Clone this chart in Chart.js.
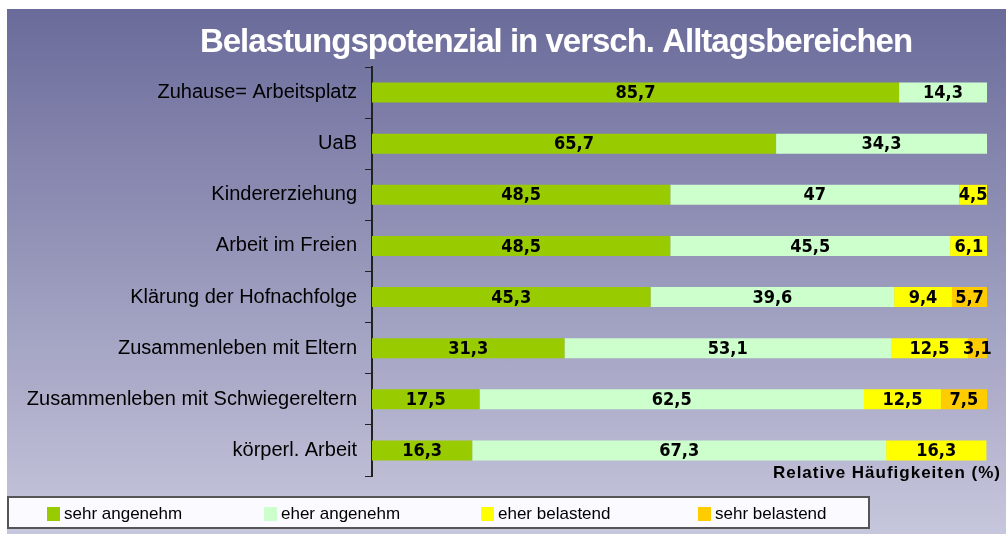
<!DOCTYPE html>
<html>
<head>
<meta charset="utf-8">
<script src="https://cdn.jsdelivr.net/npm/chart.js@4.4.0/dist/chart.umd.min.js"></script>
<style>
  html, body { margin: 0; padding: 0; background: #fff; }
  #wrap { position: relative; width: 1006px; height: 534px; overflow: hidden; }
  #bg { position: absolute; left: 7px; top: 9px; right: 0; bottom: 0;
        background: linear-gradient(to bottom, #6b6b9b 0%, #c6c6dc 100%); }
  canvas { position: absolute; left: 0; top: 0; }
</style>
</head>
<body>
<div id="wrap">
  <div id="bg"></div>
  <canvas id="barChart" width="1006" height="534"></canvas>
</div>
<script>
const categories = [
  "Zuhause= Arbeitsplatz",
  "UaB",
  "Kindererziehung",
  "Arbeit im Freien",
  "Klärung der Hofnachfolge",
  "Zusammenleben mit Eltern",
  "Zusammenleben mit Schwiegereltern",
  "körperl. Arbeit"
];
const sehrAngenehm = [85.7, 65.7, 48.5, 48.5, 45.3, 31.3, 17.5, 16.3];
const eherAngenehm = [14.3, 34.3, 47, 45.5, 39.6, 53.1, 62.5, 67.3];
const eherBelastend = [0, 0, 4.5, 6.1, 9.4, 12.5, 12.5, 16.3];
const sehrBelastend = [0, 0, 0, 0, 5.7, 3.1, 7.5, 0];
const seriesNames = ["sehr angenehm", "eher angenehm", "eher belastend", "sehr belastend"];
const seriesColors = ["#99cc00", "#ccffcc", "#ffff00", "#ffcc00"];
const chartTitle = "Belastungspotenzial in versch. Alltagsbereichen";
const axisTitle = "Relative Häufigkeiten (%)";

const seriesValues = [sehrAngenehm, eherAngenehm, eherBelastend, sehrBelastend];

// value labels centred in each segment, german decimal comma
const barLabels = {
  id: "barLabels",
  afterDatasetsDraw(chart) {
    const ctx = chart.ctx;
    ctx.save();
    ctx.font = "bold 18px 'DejaVu Sans Condensed', 'DejaVu Sans', sans-serif";
    ctx.fillStyle = "#000";
    ctx.textAlign = "center";
    ctx.textBaseline = "middle";
    chart.data.datasets.forEach((ds, i) => {
      chart.getDatasetMeta(i).data.forEach((bar, j) => {
        const v = ds.data[j];
        if (!v) return;
        ctx.fillText(String(v).replace(".", ","), (bar.x + bar.base) / 2, bar.y + 1);
      });
    });
    ctx.restore();
  }
};

// title, axis title and the boxed legend
const decorations = {
  id: "decorations",
  afterDraw(chart) {
    const ctx = chart.ctx;
    const area = chart.chartArea;
    ctx.save();

    ctx.fillStyle = "#fff";
    ctx.font = "bold 33px 'Liberation Sans', Arial, sans-serif";
    ctx.letterSpacing = "-1px";
    ctx.textAlign = "center";
    ctx.textBaseline = "alphabetic";
    ctx.fillText(chartTitle, 556, 52);

    ctx.fillStyle = "#000";
    ctx.font = "bold 17px 'Liberation Sans', Arial, sans-serif";
    ctx.letterSpacing = "1px";
    ctx.textAlign = "right";
    ctx.textBaseline = "middle";
    ctx.fillText(axisTitle, 1001, area.bottom - 3);
    ctx.letterSpacing = "0px";

    // legend box
    ctx.fillStyle = "#fbfbff";
    ctx.fillRect(8, 497, 861, 31);
    ctx.strokeStyle = "#555";
    ctx.lineWidth = 2;
    ctx.strokeRect(8, 497, 861, 31);

    ctx.font = "17px 'Liberation Sans', Arial, sans-serif";
    ctx.textAlign = "left";
    ctx.textBaseline = "middle";
    chart.data.datasets.forEach((ds, i) => {
      const x = 47 + i * 217;
      ctx.fillStyle = ds.backgroundColor;
      ctx.fillRect(x, 507, 13, 14);
      ctx.fillStyle = "#000";
      ctx.fillText(ds.label, x + 17, 514);
    });
    ctx.restore();
  }
};

new Chart(document.getElementById("barChart"), {
  type: "bar",
  data: {
    labels: categories,
    datasets: seriesNames.map((name, i) => ({
      label: name,
      data: seriesValues[i],
      backgroundColor: seriesColors[i],
      borderWidth: 0,
      barPercentage: 0.39,
      categoryPercentage: 1
    }))
  },
  options: {
    indexAxis: "y",
    responsive: false,
    animation: false,
    layout: { padding: { top: 67, bottom: 58, right: 19, left: 0 } },
    plugins: {
      legend: { display: false },
      title: { display: false },
      tooltip: { enabled: false }
    },
    scales: {
      x: {
        stacked: true,
        min: 0,
        max: 100,
        display: false
      },
      y: {
        stacked: true,
        afterFit(scale) { scale.width = 372; },
        grid: {
          display: true,
          drawOnChartArea: false,
          offset: true,
          tickLength: 7,
          color: "#222"
        },
        border: { display: true, color: "#222", width: 2 },
        ticks: {
          color: "#000",
          padding: 8,
          font: { family: "'Liberation Sans', Arial, sans-serif", size: 20 }
        }
      }
    }
  },
  plugins: [barLabels, decorations]
});
</script>
</body>
</html>
